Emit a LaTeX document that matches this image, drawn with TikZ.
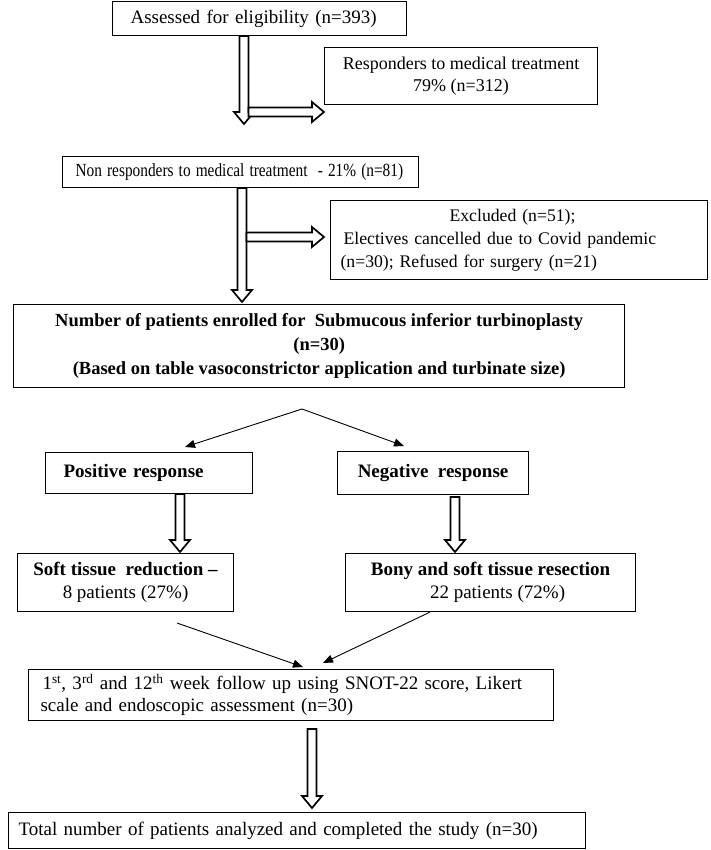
\documentclass[tikz,border=0pt]{standalone}
\usepackage{fontspec}
\usepackage{graphicx}
\setmainfont{Liberation Serif}
\usetikzlibrary{calc,arrows.meta}
\tikzset{
  box/.style={draw, line width=1.1pt, anchor=north west, inner sep=0pt,
    font=\fontsize{19}{23}\selectfont, align=center},
  thinarrow/.style={line width=0.9pt, -{Triangle[length=10pt,width=8pt]}},
  blockarrow/.style={draw, fill=white, line width=1.7pt, line join=miter},
}
\newcommand\vblock[2]{\path[blockarrow] ($(#1)+(-4.5pt,0pt)$) -- ($(#2)+(-4.5pt,12pt)$) -- ($(#2)+(-10pt,12pt)$) -- (#2) -- ($(#2)+(10pt,12pt)$) -- ($(#2)+(4.5pt,12pt)$) -- ($(#1)+(4.5pt,0pt)$) -- cycle;}
\newcommand\hblock[2]{\path[blockarrow] ($(#1)+(0pt,4.5pt)$) -- ($(#2)+(-12pt,4.5pt)$) -- ($(#2)+(-12pt,10pt)$) -- (#2) -- ($(#2)+(-12pt,-10pt)$) -- ($(#2)+(-12pt,-4.5pt)$) -- ($(#1)+(0pt,-4.5pt)$) -- cycle;}
\begin{document}
\begin{tikzpicture}[x=1pt,y=-1pt]
\useasboundingbox (0,0) rectangle (710,850);
\fill[white] (0,0) rectangle (710,850);

% boxes
\node[box, minimum width=294pt, minimum height=34pt, text width=258pt, inner xsep=18pt, align=left] (A) at (112,1) {Assessed for eligibility (n=393)};
\node[box, minimum width=273pt, minimum height=57pt, font=\fontsize{18}{22}\selectfont] (B) at (324,47) {Responders to medical treatment\\79\% (n=312)};
\node[box, minimum width=356pt, minimum height=31pt, text width=340pt, inner xsep=8pt, align=left, font=\fontsize{18.5}{20}\selectfont] (C) at (62,156) {\hspace*{5pt}\scalebox{0.83}[1]{Non responders to medical treatment\ \ - 21\% (n=81)}};
\node[box, minimum width=377pt, minimum height=79pt, text width=357pt, inner xsep=10pt, align=left, font=\fontsize{17.7}{23}\selectfont] (D) at (330,200) {\hspace*{109pt}Excluded (n=51);\\\hspace*{3pt}Electives cancelled due to Covid pandemic\\(n=30); Refused for surgery (n=21)};
\node[box, line width=1.4pt, minimum width=611pt, minimum height=83pt, font=\fontsize{18.5}{24}\selectfont\bfseries] (E) at (13,304) {Number of patients enrolled for\ \ Submucous inferior turbinoplasty\\(n=30)\\(Based on table vasoconstrictor application and turbinate size)};
\node[box, minimum width=189pt, minimum height=41pt, text width=171pt, inner xsep=18pt, align=left, font=\fontsize{19}{23}\selectfont\bfseries] (P) at (45,452) {Positive response};
\node[box, minimum width=191pt, minimum height=43pt, font=\fontsize{19}{23}\selectfont\bfseries] (N) at (337,451) {Negative\ \ response};
\node[box, minimum width=216pt, minimum height=58pt] (S) at (17,553) {\textbf{Soft tissue\ \ reduction --}\\8 patients (27\%)};
\node[box, minimum width=290pt, minimum height=58pt] (R) at (345,553) {\textbf{Bony and soft tissue resection}\\\hspace*{14pt}22 patients (72\%)};
\node[box, minimum width=513pt, minimum height=51pt, text width=501pt, inner xsep=12pt, align=left, font=\fontsize{19}{22}\selectfont] (F) at (28,669) {\hspace*{2pt}1\textsuperscript{st}, 3\textsuperscript{rd} and 12\textsuperscript{th} week follow up using SNOT-22 score, Likert\\scale and endoscopic assessment (n=30)};
\node[box, minimum width=567pt, minimum height=36pt, text width=557pt, inner xsep=10pt, align=left] (T) at (8,812) {Total number of patients analyzed and completed the study (n=30)};

% coordinates for block arrows
\coordinate (a1s) at (244,0 |- A.south);
\coordinate (a1t) at (244,124);
\coordinate (h1s) at (248.5,112);
\coordinate (h1t) at (B.south west |- 0,112);
\coordinate (c1s) at (242,0 |- C.south);
\coordinate (c1t) at (242,302);
\coordinate (h2s) at (246.5,237);
\coordinate (h2t) at (324,237);
\coordinate (ps) at (180,0 |- P.south);
\coordinate (pt) at (180,552);
\coordinate (ns) at (455,497);
\coordinate (nt) at (455,552);
\coordinate (fs) at (312,729);
\coordinate (ft) at (312,808);

\vblock{a1s}{a1t}
\hblock{h1s}{h1t}
\vblock{c1s}{c1t}
\hblock{h2s}{h2t}
\vblock{ps}{pt}
\vblock{ns}{nt}
\vblock{fs}{ft}

% thin arrows
\coordinate (split) at (302,409);
\coordinate (pl) at (185,447);
\coordinate (nr) at (404,446);
\draw[thinarrow] (split) -- (pl);
\draw[thinarrow] (split) -- (nr);
\coordinate (sl) at (177,623);
\coordinate (fl) at (303,667);
\coordinate (rb) at (430,0 |- R.south);
\coordinate (fr) at (323,663);
\draw[thinarrow] (sl) -- (fl);
\draw[thinarrow] (rb) -- (fr);
\end{tikzpicture}
\end{document}
